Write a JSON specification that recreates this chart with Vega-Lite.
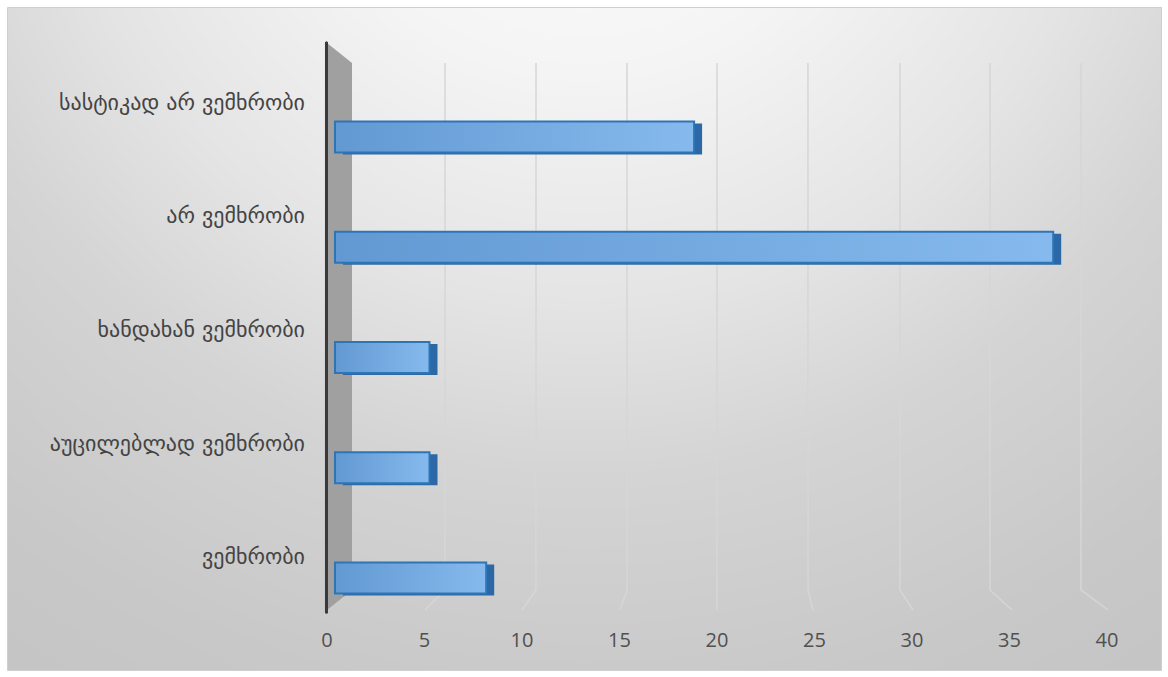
{
  "$schema": "https://vega.github.io/schema/vega-lite/v6.json",
  "width": 1154,
  "height": 663,
  "padding": {"left": 7, "top": 7, "right": 7, "bottom": 7},
  "autosize": {"type": "none"},
  "background": "#ffffff",
  "config": {
    "view": {
      "stroke": "#cfcfcf",
      "strokeWidth": 1,
      "fill": {
        "gradient": "radial",
        "x1": 0.5, "y1": 0.02, "r1": 0,
        "x2": 0.5, "y2": 0.02, "r2": 1,
        "stops": [
          {"offset": 0, "color": "#ffffff"},
          {"offset": 0.25, "color": "#f4f4f4"},
          {"offset": 0.45, "color": "#e4e4e4"},
          {"offset": 0.6, "color": "#d4d4d4"},
          {"offset": 0.8, "color": "#c8c8c8"},
          {"offset": 1, "color": "#c2c2c2"}
        ]
      }
    }
  },
  "datasets": {
    "answers": [
      {"cat": "სასტიკად არ ვემხრობი", "v": 19},
      {"cat": "არ ვემხრობი", "v": 38},
      {"cat": "ხანდახან ვემხრობი", "v": 5},
      {"cat": "აუცილებლად ვემხრობი", "v": 5},
      {"cat": "ვემხრობი", "v": 8}
    ],
    "ticks": [
      {"t": 0}, {"t": 5}, {"t": 10}, {"t": 15}, {"t": 20},
      {"t": 25}, {"t": 30}, {"t": 35}, {"t": 40}
    ],
    "wall": [
      {"wx": -0.423, "wb": 0.0905, "wt": 0.9457},
      {"wx": 0.899, "wb": 0.1207, "wt": 0.9155}
    ],
    "grid": [
      {"g": 5, "xa": 5.82, "xb": 5.82, "ha": 0.1207, "hb": 0.9155},
      {"g": 5, "xa": 5.82, "xb": 4.762, "ha": 0.1207, "hb": 0.0905},
      {"g": 10, "xa": 10.635, "xb": 10.635, "ha": 0.1207, "hb": 0.9155},
      {"g": 10, "xa": 10.635, "xb": 9.894, "ha": 0.1207, "hb": 0.0905},
      {"g": 15, "xa": 15.45, "xb": 15.45, "ha": 0.1207, "hb": 0.9155},
      {"g": 15, "xa": 15.45, "xb": 15.079, "ha": 0.1207, "hb": 0.0905},
      {"g": 20, "xa": 20.212, "xb": 20.212, "ha": 0.1207, "hb": 0.9155},
      {"g": 20, "xa": 20.212, "xb": 20.212, "ha": 0.1207, "hb": 0.0905},
      {"g": 25, "xa": 25.026, "xb": 25.026, "ha": 0.1207, "hb": 0.9155},
      {"g": 25, "xa": 25.026, "xb": 25.291, "ha": 0.1207, "hb": 0.0905},
      {"g": 30, "xa": 29.894, "xb": 29.894, "ha": 0.1207, "hb": 0.9155},
      {"g": 30, "xa": 29.894, "xb": 30.582, "ha": 0.1207, "hb": 0.0905},
      {"g": 35, "xa": 34.656, "xb": 34.656, "ha": 0.1207, "hb": 0.9155},
      {"g": 35, "xa": 34.656, "xb": 35.82, "ha": 0.1207, "hb": 0.0905},
      {"g": 40, "xa": 39.471, "xb": 39.471, "ha": 0.1207, "hb": 0.9155},
      {"g": 40, "xa": 39.471, "xb": 40.899, "ha": 0.1207, "hb": 0.0905}
    ]
  },
  "layer": [
    {
      "layer": [
        {
          "data": {"name": "wall"},
          "mark": {"type": "area", "orient": "vertical", "color": "#a0a0a0", "opacity": 1, "interpolate": "linear"},
          "encoding": {
            "x": {"field": "wx", "type": "quantitative", "scale": {"domain": [-17.354, 43.704], "nice": false, "zero": false}, "axis": null},
            "y": {"field": "wb", "type": "quantitative", "scale": {"domain": [0, 1], "nice": false, "zero": false}, "axis": null},
            "y2": {"field": "wt"}
          }
        },
        {
          "data": {"name": "grid"},
          "mark": {"type": "rule", "color": "#d6d6d6", "strokeWidth": 1.5},
          "encoding": {
            "x": {"field": "xa", "type": "quantitative", "scale": {"domain": [-17.354, 43.704], "nice": false, "zero": false}, "axis": null},
            "x2": {"field": "xb"},
            "y": {"field": "ha", "type": "quantitative", "scale": {"domain": [0, 1], "nice": false, "zero": false}, "axis": null},
            "y2": {"field": "hb"}
          }
        },
        {
          "data": {"name": "wall"},
          "mark": {"type": "rule", "color": "#3a3a3a", "strokeWidth": 3, "strokeCap": "round"},
          "encoding": {
            "x": {"datum": -0.45, "type": "quantitative", "scale": {"domain": [-17.354, 43.704], "nice": false, "zero": false}, "axis": null},
            "y": {"datum": 0.0875, "type": "quantitative", "scale": {"domain": [0, 1], "nice": false, "zero": false}, "axis": null},
            "y2": {"datum": 0.9457}
          }
        },
        {
          "data": {"name": "ticks"},
          "mark": {"type": "text", "font": "Open Sans", "fontSize": 20, "color": "#505050", "align": "center", "baseline": "middle", "dx": {"expr": "0.6*datum.t - 8"}},
          "encoding": {
            "x": {"field": "t", "type": "quantitative", "scale": {"domain": [-17.354, 43.704], "nice": false, "zero": false}, "axis": null},
            "y": {"datum": 0.0437, "type": "quantitative", "scale": {"domain": [0, 1], "nice": false, "zero": false}, "axis": null},
            "text": {"field": "t", "type": "quantitative", "format": "d"}
          }
        }
      ]
    },
    {
      "data": {"name": "answers"},
      "layer": [
        {
          "mark": {"type": "bar", "color": "#2c68a5", "xOffset": 8, "yOffset": 2},
          "encoding": {
            "x": {"field": "v", "type": "quantitative", "scale": {"domain": [-17.354, 43.704], "nice": false, "zero": false}, "axis": null},
            "y": {"field": "cat", "type": "nominal", "sort": null, "scale": {"type": "band", "paddingInner": 0.719, "paddingOuter": 0.866, "align": 0.5995}, "axis": null}
          }
        },
        {
          "mark": {
            "type": "bar",
            "fill": {
              "gradient": "linear", "x1": 0, "y1": 0, "x2": 1, "y2": 0,
              "stops": [
                {"offset": 0, "color": "#6299d2"},
                {"offset": 1, "color": "#86baee"}
              ]
            },
            "stroke": "#2e75b6",
            "strokeWidth": 2
          },
          "encoding": {
            "x": {"field": "v", "type": "quantitative", "scale": {"domain": [-17.354, 43.704], "nice": false, "zero": false}, "axis": null},
            "y": {"field": "cat", "type": "nominal", "sort": null, "scale": {"type": "band", "paddingInner": 0.719, "paddingOuter": 0.866, "align": 0.5995}, "axis": null}
          }
        }
      ]
    },
    {
      "data": {"name": "answers"},
      "mark": {"type": "text", "align": "right", "baseline": "middle", "font": "DejaVu Sans", "fontSize": 22, "color": "#444444"},
      "encoding": {
        "x": {"datum": -1.587, "type": "quantitative", "scale": {"domain": [-17.354, 43.704], "nice": false, "zero": false}, "axis": null},
        "y": {"field": "cat", "type": "nominal", "sort": null, "scale": {"type": "band", "paddingInner": 0, "paddingOuter": 0.4206, "align": 0.411}, "axis": null},
        "text": {"field": "cat"}
      }
    }
  ],
  "resolve": {"scale": {"y": "independent"}}
}
